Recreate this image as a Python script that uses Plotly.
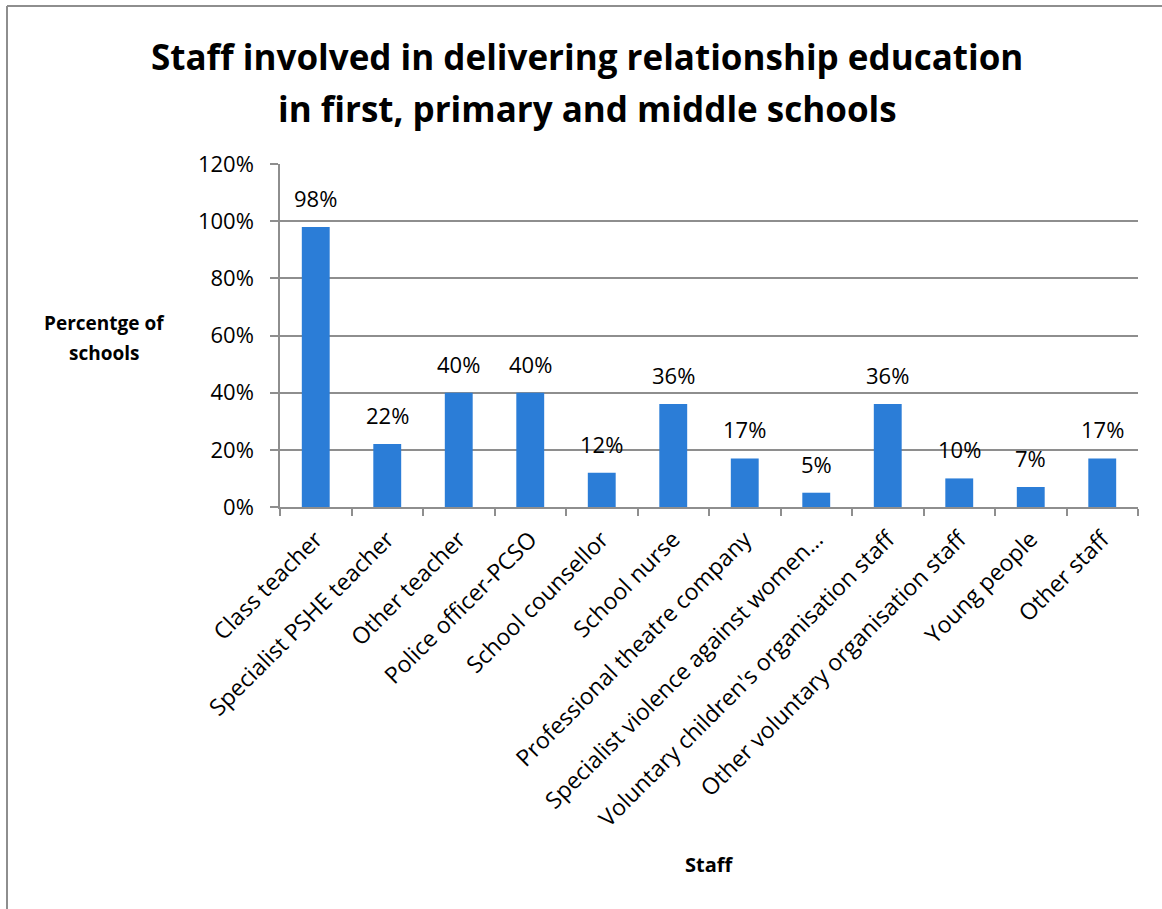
import plotly.graph_objects as go

# Staff categories and share of schools (%)
staff = [
    "Class teacher",
    "Specialist PSHE teacher",
    "Other teacher",
    "Police officer-PCSO",
    "School counsellor",
    "School nurse",
    "Professional theatre company",
    "Specialist violence against women…",
    "Voluntary children's organisation staff",
    "Other voluntary organisation staff",
    "Young people",
    "Other staff",
]
pct = [98, 22, 40, 40, 12, 36, 17, 5, 36, 10, 7, 17]

y_ticks = [0, 20, 40, 60, 80, 100, 120]

title_lines = [
    "Staff involved in delivering relationship education",
    "in first, primary and middle schools",
]
y_title_lines = ["Percentge of", "schools"]

W, H = 1162, 909
L, R, T, B = 280, 24, 164, 402
FONT = "Open Sans"
BAR = "#2B7DD7"
GRID = "#8e8e8e"
BLACK = "#000000"

pw, ph = W - L - R, H - T - B


def px_x(p):
    return (p - L) / pw


def px_y(p):
    return (H - B - p) / ph


fig = go.Figure()
fig.add_trace(go.Bar(
    x=staff, y=pct,
    marker=dict(color=BAR, line=dict(width=0)),
    hoverinfo="x+y",
))

# value labels above each bar
for s, v in zip(staff, pct):
    fig.add_annotation(
        x=s, y=v, text=f"{v}%", showarrow=False,
        yanchor="bottom", yshift=12,
        font=dict(family=FONT, size=22, color=BLACK),
    )

# two-line bold title
for line, yc in zip(title_lines, [57, 108]):
    fig.add_annotation(
        xref="paper", yref="paper", x=px_x(587), y=px_y(yc),
        text=f"<b>{line}</b>", showarrow=False,
        xanchor="center", yanchor="middle",
        font=dict(family=FONT, size=35, color=BLACK),
    )

# y-axis title, horizontal, left of the axis
for line, yc in zip(y_title_lines, [323, 353]):
    fig.add_annotation(
        xref="paper", yref="paper",
        x=px_x(104), y=px_y(yc),
        text=f"<b>{line}</b>", showarrow=False,
        xanchor="center", yanchor="middle",
        font=dict(family=FONT, size=19, color=BLACK),
    )

# x-axis title
fig.add_annotation(
    xref="paper", yref="paper",
    x=px_x(709), y=px_y(864),
    text="<b>Staff</b>", showarrow=False,
    xanchor="center", yanchor="middle",
    font=dict(family=FONT, size=20, color=BLACK),
)

# chart frame
fig.add_shape(type="line", xref="paper", yref="paper",
              x0=px_x(7), x1=px_x(1200), y0=px_y(6), y1=px_y(6),
              line=dict(color=GRID, width=2))
fig.add_shape(type="line", xref="paper", yref="paper",
              x0=px_x(7), x1=px_x(7), y0=px_y(6), y1=px_y(950),
              line=dict(color=GRID, width=2))

fig.update_layout(
    width=W, height=H,
    margin=dict(l=L, r=R, t=T, b=B, autoexpand=False),
    paper_bgcolor="white", plot_bgcolor="white",
    bargap=0.61,
    showlegend=False,
    xaxis=dict(
        type="category",
        tickangle=-45,
        ticks="outside", tickson="boundaries", ticklen=7, tickcolor=GRID, tickwidth=1.5,
        showline=True, linecolor=GRID, linewidth=1.5,
        showgrid=False,
        tickfont=dict(family=FONT, size=23, color=BLACK),
        ticklabelstandoff=8,
        automargin=False,
    ),
    yaxis=dict(
        range=[0, 120],
        tickvals=y_ticks, ticktext=[f"{t}%" for t in y_ticks],
        ticks="outside", ticklen=8, tickcolor=GRID, tickwidth=1.5,
        showline=True, linecolor=GRID, linewidth=1.5,
        showgrid=True, gridcolor=GRID, gridwidth=1.5,
        zeroline=False,
        tickfont=dict(family=FONT, size=22, color=BLACK),
        ticklabelstandoff=12,
        automargin=False,
    ),
)

fig.write_html("out.html")
